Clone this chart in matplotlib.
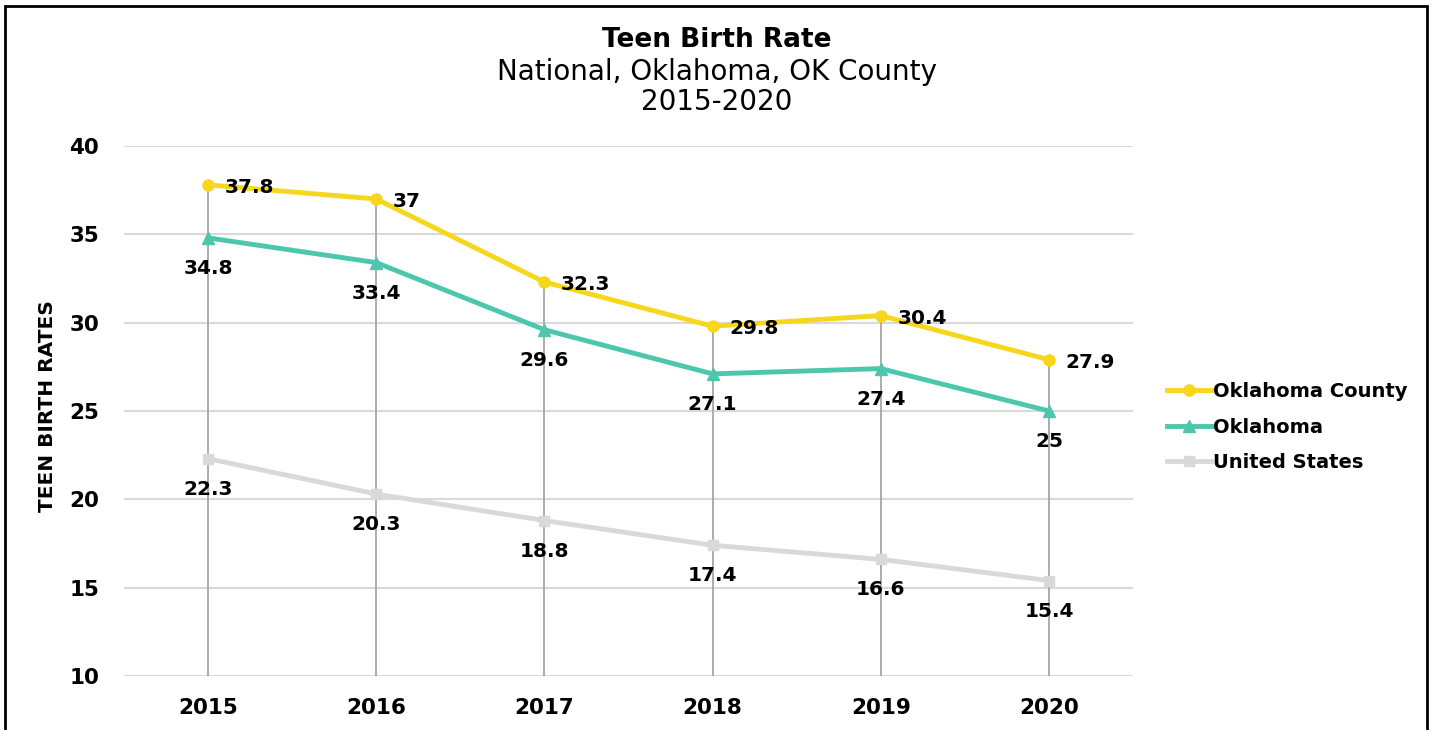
import matplotlib.pyplot as plt
from matplotlib.patches import Rectangle

years = ["2015", "2016", "2017", "2018", "2019", "2020"]
ok_county = [37.8, 37, 32.3, 29.8, 30.4, 27.9]
oklahoma = [34.8, 33.4, 29.6, 27.1, 27.4, 25]
united_states = [22.3, 20.3, 18.8, 17.4, 16.6, 15.4]

YELLOW = "#F7D71C"
TEAL = "#4DC6AE"
GRAY = "#D9D9D9"

plt.rcParams["font.family"] = ["DejaVu Sans"]

fig = plt.figure(figsize=(14.33, 7.3), dpi=100)
ax = fig.add_axes([0.0865, 0.074, 0.7042, 0.726])

x = list(range(len(years)))

# drop lines from the top series down to the axis floor
ax.vlines(x, 10, ok_county, color="#A6A6A6", lw=1.3, zorder=2)

ax.plot(x, ok_county, color=YELLOW, lw=3.5, marker="o", ms=8, label="Oklahoma County", zorder=5)
ax.plot(x, oklahoma, color=TEAL, lw=3.5, marker="^", ms=8, label="Oklahoma", zorder=4)
ax.plot(x, united_states, color=GRAY, lw=3.5, marker="s", ms=7, label="United States", zorder=3)

for xi, v in zip(x, ok_county):
    ax.annotate(f"{v:g}", (xi, v), xytext=(12, -2), textcoords="offset points",
                ha="left", va="center", fontsize=14.5, fontweight="bold", zorder=10)
for xi, v in zip(x, oklahoma):
    ax.annotate(f"{v:g}", (xi, v), xytext=(0, -22), textcoords="offset points",
                ha="center", va="center", fontsize=14.5, fontweight="bold", zorder=10)
for xi, v in zip(x, united_states):
    ax.annotate(f"{v:g}", (xi, v), xytext=(0, -22), textcoords="offset points",
                ha="center", va="center", fontsize=14.5, fontweight="bold", zorder=10)

ax.set_xlim(-0.5, len(years) - 0.5)
ax.set_ylim(10, 40)
ax.set_yticks(range(10, 41, 5))
ax.set_xticks(x)
ax.set_xticklabels(years)
ax.grid(axis="y", color="#D9D9D9", lw=1.5)
ax.set_axisbelow(True)
for s in ax.spines.values():
    s.set_visible(False)
ax.tick_params(length=0, labelsize=15.5, pad=16)
for lbl in ax.get_xticklabels() + ax.get_yticklabels():
    lbl.set_fontweight("bold")
ax.tick_params(axis="y", pad=18)

fig.text(0.033, 0.444, "TEEN BIRTH RATES", rotation=90, ha="center", va="center",
         fontsize=14.5, fontweight="bold")

fig.text(0.5, 0.945, "Teen Birth Rate", ha="center", va="center", fontsize=19, fontweight="bold")
fig.text(0.5, 0.901, "National, Oklahoma, OK County", ha="center", va="center", fontsize=20)
fig.text(0.5, 0.860, "2015-2020", ha="center", va="center", fontsize=20)

fig.legend(loc="center left", bbox_to_anchor=(0.802, 0.415), frameon=False,
           prop={"size": 14, "weight": "bold"}, handlelength=2.3, handletextpad=0.1,
           labelspacing=0.85)

fig.patches.append(Rectangle((0.0035, -0.05), 0.9923, 1.0418, transform=fig.transFigure,
                             fill=False, edgecolor="black", lw=2))

fig.savefig("out.png", dpi=100)
